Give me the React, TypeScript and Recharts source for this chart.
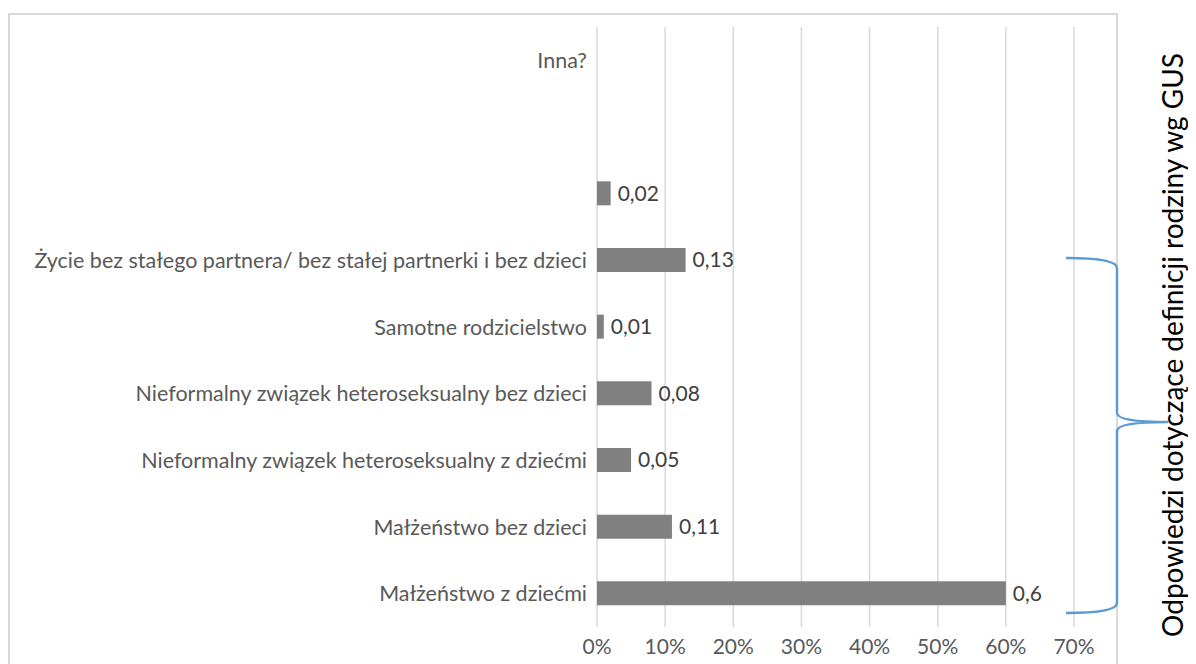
import React from "react";
import {
  Bar,
  BarChart,
  CartesianGrid,
  LabelList,
  XAxis,
  YAxis,
} from "recharts";

// categories from top to bottom, as in the source sheet
const categories = [
  "Inna?",
  "",
  "",
  "Życie bez stałego partnera/ bez stałej partnerki i bez dzieci",
  "Samotne rodzicielstwo",
  "Nieformalny związek heteroseksualny bez dzieci",
  "Nieformalny związek heteroseksualny z dziećmi",
  "Małżeństwo bez dzieci",
  "Małżeństwo z dziećmi",
];

const shares: (number | null)[] = [null, null, 0.02, 0.13, 0.01, 0.08, 0.05, 0.11, 0.6];

const xTicks = [0, 0.1, 0.2, 0.3, 0.4, 0.5, 0.6, 0.7];

const braceLabel = "Odpowiedzi dotyczące definicji rodziny wg GUS";

const data = categories.map((name, i) => ({ name, value: shares[i] }));

const FONT = "Lato, 'Open Sans', sans-serif";

const App = () => {
  return (
    <div
      style={{
        position: "relative",
        width: 1188,
        height: 656,
        overflow: "hidden",
        fontFamily: FONT,
      }}
    >
      <div
        style={{
          position: "absolute",
          left: 0,
          top: 5,
          width: 1110,
          height: 700,
          border: "2px solid #d9d9d9",
          boxSizing: "border-box",
        }}
      />
      <BarChart
        width={1188}
        height={656}
        data={data}
        layout="vertical"
        margin={{ top: 19, right: 122, bottom: 0, left: 0 }}
        barCategoryGap={0}
        style={{ position: "absolute", left: 0, top: 0 }}
      >
        <CartesianGrid horizontal={false} stroke="#d9d9d9" strokeWidth={1.5} />
        <XAxis
          type="number"
          domain={[0, 0.7]}
          ticks={xTicks}
          tickFormatter={(v: number) => `${Math.round(v * 100)}%`}
          axisLine={false}
          tickLine={false}
          tickMargin={6}
          height={37}
          tick={{ fill: "#595959", fontSize: 21, fontFamily: FONT }}
        />
        <YAxis
          type="category"
          dataKey="name"
          width={589}
          axisLine={false}
          tickLine={false}
          tickMargin={4}
          interval={0}
          tick={{ fill: "#595959", fontSize: 21.5, fontFamily: FONT }}
        />
        <Bar dataKey="value" fill="#808080" barSize={24} isAnimationActive={false}>
          <LabelList
            dataKey="value"
            position="right"
            offset={7}
            fill="#404040"
            fontSize={21}
            fontFamily={FONT}
            formatter={(v: any) => (v == null ? "" : String(v).replace(".", ","))}
          />
        </Bar>
      </BarChart>
      <svg
        width={1188}
        height={656}
        style={{ position: "absolute", left: 0, top: 0, pointerEvents: "none" }}
      >
        <path
          d="M1058,250 Q1109,250 1109,260 L1109,405 Q1109,414 1160,414 Q1109,414 1109,423 L1109,595 Q1109,605 1058,605"
          fill="none"
          stroke="#5b9bd5"
          strokeWidth={2.5}
        />
        <text
          transform="translate(1164,337) rotate(-90)"
          textAnchor="middle"
          dominantBaseline="central"
          fontSize={28}
          fontFamily={FONT}
          fill="#000"
        >
          {braceLabel}
        </text>
      </svg>
    </div>
  );
};

export default App;
